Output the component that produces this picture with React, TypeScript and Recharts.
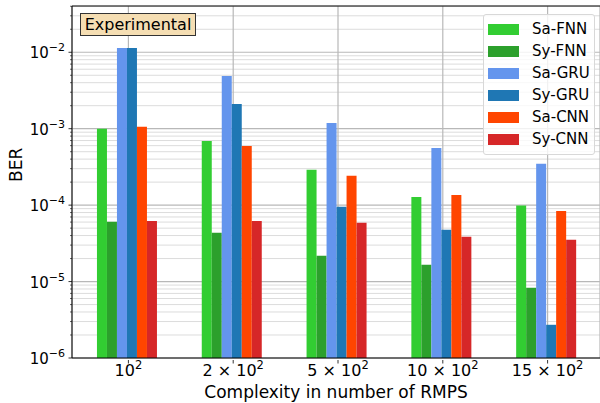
import React from 'react'
import {
  BarChart, Bar, XAxis, YAxis, CartesianGrid, ReferenceLine,
} from 'recharts'

const multipliers = [1, 2, 5, 10, 15]

const saFnn = [1.0e-3, 6.9e-4, 2.9e-4, 1.28e-4, 9.9e-5]
const syFnn = [6.05e-5, 4.35e-5, 2.17e-5, 1.66e-5, 8.3e-6]
const saGru = [1.14e-2, 4.9e-3, 1.19e-3, 5.6e-4, 3.47e-4]
const syGru = [1.14e-2, 2.11e-3, 9.5e-5, 4.75e-5, 2.72e-6]
const saCnn = [1.06e-3, 5.96e-4, 2.42e-4, 1.36e-4, 8.4e-5]
const syCnn = [6.2e-5, 6.2e-5, 5.87e-5, 3.85e-5, 3.52e-5]

const decadeExps = [-6, -5, -4, -3, -2]
const yMin = 1e-6
const yMax = 0.0403

const seriesDefs = [
  { key: 'Sa-FNN', values: saFnn, color: '#32cd32' },
  { key: 'Sy-FNN', values: syFnn, color: '#2ca02c' },
  { key: 'Sa-GRU', values: saGru, color: '#6495ed' },
  { key: 'Sy-GRU', values: syGru, color: '#1f77b4' },
  { key: 'Sa-CNN', values: saCnn, color: '#ff4500' },
  { key: 'Sy-CNN', values: syCnn, color: '#d62728' },
]

const chartData = multipliers.map((m, i) => {
  const row: Record<string, string | number> = { cat: String(m) }
  seriesDefs.forEach((s) => { row[s.key] = s.values[i] })
  return row
})

const majorTicks = decadeExps.map((e) => Math.pow(10, e))
const minorTicks: number[] = []
decadeExps.forEach((e) => {
  for (let k = 2; k <= 9; k++) {
    const v = k * Math.pow(10, e)
    if (v < yMax) minorTicks.push(v)
  }
})
const allTicks = [...majorTicks, ...minorTicks].sort((a, b) => a - b)

const FONT = 'DejaVu Sans, sans-serif'

function YTick({ x, y, payload }: { x: number; y: number; payload: { value: number } }) {
  const v = payload.value
  const exp = Math.round(Math.log10(v))
  const isMajor = Math.abs(v - Math.pow(10, exp)) / v < 1e-6
  if (!isMajor) {
    return <line x1={x - 2} x2={x} y1={y} y2={y} stroke="#000" strokeWidth={0.6} />
  }
  return (
    <g>
      <line x1={x - 3.5} x2={x} y1={y} y2={y} stroke="#000" strokeWidth={0.8} />
      <text x={x - 7} y={y + 6} textAnchor="end" fontSize={15} fontFamily={FONT} fill="#000">
        10<tspan dy={-7} fontSize={11}>{`\u2212${-exp}`}</tspan>
      </text>
    </g>
  )
}

function XTick({ x, y, payload }: { x: number; y: number; payload: { value: string } }) {
  const m = payload.value
  return (
    <g>
      <line x1={x} x2={x} y1={y} y2={y + 3.5} stroke="#000" strokeWidth={0.8} />
      <text x={x} y={y + 16} textAnchor="middle" fontSize={16} fontFamily={FONT} fill="#000">
        {m === '1' ? '' : `${m} \u00d7 `}10<tspan dy={-7} fontSize={11.5}>2</tspan>
      </text>
    </g>
  )
}

function LegendBox() {
  return (
    <div style={{
      position: 'absolute', left: 483, top: 14, width: 112, boxSizing: 'border-box',
      background: 'rgba(255,255,255,0.8)', border: '1px solid #d8d8d8', borderRadius: 3,
      padding: '3px 0 4px 4px', fontFamily: FONT, fontSize: 15, color: '#000',
    }}>
      {seriesDefs.map((s) => (
        <div key={s.key} style={{ display: 'flex', alignItems: 'center', height: 22 }}>
          <span style={{ display: 'inline-block', width: 31, height: 11, background: s.color, marginRight: 13 }} />
          <span>{s.key}</span>
        </div>
      ))}
    </div>
  )
}

export default function App() {
  return (
    <div style={{ position: 'absolute', left: 0, top: 0, width: 600, height: 403, background: '#fff' }}>
      <BarChart
        width={600}
        height={403}
        data={chartData}
        margin={{ top: 6, right: 0, bottom: 0, left: 0 }}
        barCategoryGap="20%"
        barGap={0}
      >
        <CartesianGrid horizontalValues={minorTicks} vertical={false} stroke="#dcdcdc" strokeWidth={1} />
        <CartesianGrid horizontalValues={majorTicks} vertical stroke="#b8b8b8" strokeWidth={1.2} />
        <XAxis
          dataKey="cat"
          tick={XTick}
          tickLine={false}
          tickSize={0}
          axisLine={{ stroke: '#000', strokeWidth: 1 }}
          height={45}
          padding={{ left: 4, right: 0 }}
          interval={0}
          label={{ value: 'Complexity in number of RMPS', position: 'insideBottom', offset: 5, fontSize: 17, fontFamily: FONT, fill: '#000' }}
        />
        <YAxis
          scale="log"
          domain={[yMin, yMax]}
          allowDataOverflow
          ticks={allTicks}
          interval={0}
          tick={YTick}
          tickLine={false}
          tickSize={0}
          tickMargin={0}
          width={72}
          axisLine={{ stroke: '#000', strokeWidth: 1 }}
          label={{ value: 'BER', angle: -90, position: 'insideLeft', offset: 16, fontSize: 17, fontFamily: FONT, fill: '#000' }}
        />
        <ReferenceLine y={yMax} stroke="#000" strokeWidth={1} ifOverflow="extendDomain" />
        {seriesDefs.map((s) => (
          <Bar key={s.key} dataKey={s.key} fill={s.color} isAnimationActive={false} />
        ))}
      </BarChart>
      <LegendBox />
      <div style={{
        position: 'absolute', left: 80, top: 13, width: 116, height: 23,
        background: '#f5deb3', border: '1px solid #333', boxSizing: 'border-box',
        fontFamily: FONT, fontSize: 16, lineHeight: '21px', textAlign: 'center', color: '#000',
      }}>Experimental</div>
    </div>
  )
}
